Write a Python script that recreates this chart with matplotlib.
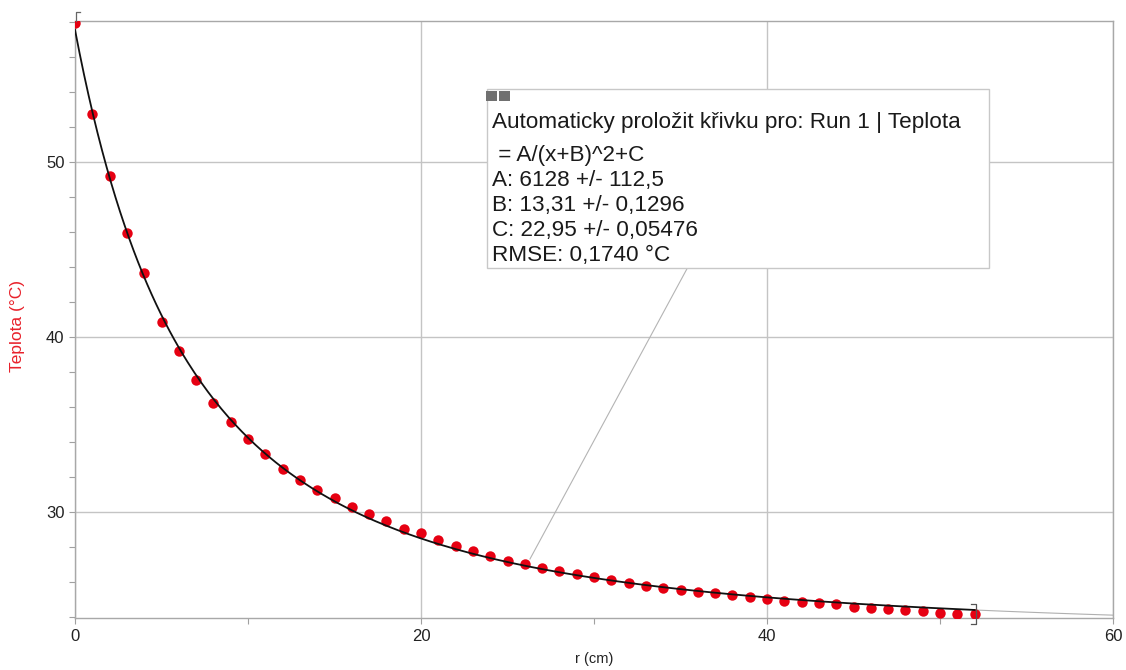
import matplotlib
matplotlib.use('Agg')
import matplotlib.pyplot as plt
import numpy as np
from matplotlib.patches import Rectangle
from matplotlib.ticker import MultipleLocator

plt.rcParams['font.family'] = ['Liberation Sans', 'DejaVu Sans']

# ---- data ----
r_cm = list(range(0, 53))
teplota = [57.94, 52.73, 49.18, 45.94, 43.62, 40.86, 39.17, 37.53, 36.23, 35.11,
           34.15, 33.28, 32.46, 31.81, 31.24, 30.81, 30.29, 29.89, 29.49, 29.01,
           28.77, 28.38, 28.06, 27.75, 27.45, 27.20, 26.99, 26.80, 26.61, 26.44,
           26.25, 26.08, 25.93, 25.77, 25.64, 25.51, 25.43, 25.34, 25.22, 25.13,
           25.01, 24.91, 24.86, 24.78, 24.71, 24.57, 24.50, 24.42, 24.37, 24.31,
           24.21, 24.17, 24.13]
fit_A = 6128.0
fit_B = 13.31
fit_C = 22.95
x_ticks = [0, 20, 40, 60]
y_ticks = [30, 40, 50]
box_lines = ["Automaticky proložit křivku pro: Run 1 | Teplota",
             " = A/(x+B)^2+C",
             "A: 6128 +/- 112,5",
             "B: 13,31 +/- 0,1296",
             "C: 22,95 +/- 0,05476",
             "RMSE: 0,1740 °C"]

W, H = 1126, 670
fig = plt.figure(figsize=(W / 100, H / 100), dpi=100)


def fx(x):
    return x / W


def fy(y):
    return 1 - y / H


ax = fig.add_axes([fx(75), fy(618.3), fx(1113) - fx(75), fy(20.7) - fy(618.3)])
ax.set_xlim(0, 60)
ax.set_ylim(23.91, 58.06)
ax.set_xticks(x_ticks)
ax.set_yticks(y_ticks)
ax.xaxis.set_minor_locator(MultipleLocator(10))
ax.yaxis.set_minor_locator(MultipleLocator(2))
ax.grid(True, which='major', color='#c4c4c4', lw=1.0, zorder=0)
ax.set_axisbelow(True)
ax.tick_params(which='both', colors='#a0a0a0', labelcolor='#222222',
               labelsize=12, length=4, width=0.8)
for s in ax.spines.values():
    s.set_color('#a8a8a8')
    s.set_linewidth(1.0)

# fit curve
xf = np.linspace(0, 52, 400)
ax.plot(xf, fit_A / (xf + fit_B) ** 2 + fit_C, color='#111111', lw=1.3, zorder=4)
xe = np.linspace(52, 60, 50)
ax.plot(xe, fit_A / (xe + fit_B) ** 2 + fit_C, color='#b0b0b0', lw=0.8, zorder=2)

# data points
ax.plot(r_cm, teplota, 'o', color='#e60012', ms=7.5, mec='none', zorder=3)

# selection brackets
ax.plot([0.05, 0.05, 0.3], [58.06, 58.57, 58.57], color='#666666', lw=0.9,
        clip_on=False, zorder=5)
ax.plot([51.8, 52.08, 52.08, 51.8], [24.73, 24.73, 23.6, 23.6], color='#555555',
        lw=0.9, clip_on=False, zorder=5)

# leader line
ax.plot([26.3, 35.4], [27.3, 43.93], color='#b4b4b4', lw=0.8, zorder=2)

ax.set_xlabel('r (cm)', fontsize=10.5, color='#222222')
ax.xaxis.set_label_coords(0.5, -0.056)
ax.set_ylabel('Teplota (°C)', fontsize=12.5, color='#e8202a')
ax.yaxis.set_label_coords(-0.048, 0.489)

# annotation box
fig.add_artist(Rectangle((fx(487), fy(268)), fx(989) - fx(487), fy(89) - fy(268),
                         transform=fig.transFigure, facecolor='white',
                         edgecolor='#c8c8c8', lw=1.0, zorder=5))
for x0 in (486, 499):
    fig.add_artist(Rectangle((fx(x0), fy(101)), fx(11), 10 / H,
                             transform=fig.transFigure, facecolor='#707070',
                             edgecolor='none', zorder=6))
baselines = [128.3, 161, 186, 211, 236, 261]
for s, yb in zip(box_lines, baselines):
    fig.text(fx(491.7), fy(yb), s, va='baseline', ha='left', fontsize=16.2,
             color='#1a1a1a', zorder=7)

fig.savefig('out.png', dpi=100)
